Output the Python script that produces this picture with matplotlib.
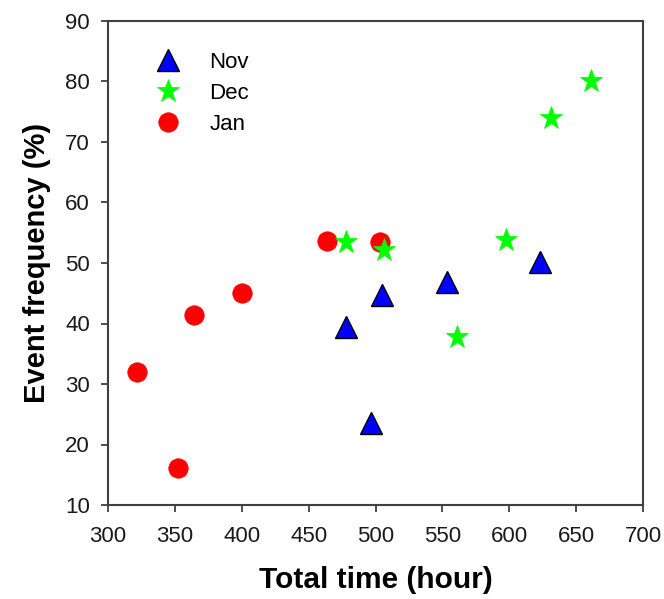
import matplotlib
matplotlib.use("Agg")
import matplotlib.pyplot as plt

# Data
nov_x = [478.2, 505.2, 496.4, 553.2, 623.0]
nov_y = [39.5, 44.7, 23.5, 46.9, 50.2]

dec_x = [661.1, 631.0, 597.3, 560.7, 477.6, 506.5]
dec_y = [80.0, 74.0, 53.8, 37.8, 53.4, 52.1]

jan_x = [463.5, 503.4, 400.0, 364.5, 321.5, 352.6]
jan_y = [53.7, 53.5, 45.0, 41.4, 32.0, 16.1]

x_ticks = [300, 350, 400, 450, 500, 550, 600, 650, 700]
y_ticks = [10, 20, 30, 40, 50, 60, 70, 80, 90]

plt.rcParams['font.family'] = ['Liberation Sans', 'DejaVu Sans']

fig = plt.figure(figsize=(6.64, 5.99), dpi=100)
ax = fig.add_axes([108/664, 1-505/599, (643-108)/664, (505-21)/599])

ax.plot(nov_x, nov_y, linestyle='none', marker='^', markersize=16,
        markerfacecolor='#0000ff', markeredgecolor='black', markeredgewidth=1.0,
        label='Nov', zorder=3)
ax.plot(dec_x, dec_y, linestyle='none', marker='*', markersize=17,
        markerfacecolor='#00ff00', markeredgecolor='#00ff00', markeredgewidth=0.5,
        label='Dec', zorder=4)
ax.plot(jan_x, jan_y, linestyle='none', marker='o', markersize=14,
        markerfacecolor='#ff0000', markeredgecolor='#ff0000', markeredgewidth=0.5,
        label='Jan', zorder=3)

ax.set_xlim(300, 700)
ax.set_ylim(10, 90)
ax.set_xticks(x_ticks)
ax.set_yticks(y_ticks)
ax.tick_params(direction='out', length=5, width=1.3, color='#404040',
               labelsize=16, labelcolor='#1a1a1a')
ax.tick_params(axis='x', pad=10)
ax.tick_params(axis='y', pad=8)
for s in ax.spines.values():
    s.set_linewidth(1.5)
    s.set_color('#404040')

ax.set_xlabel('Total time (hour)', fontsize=21.5, fontweight='bold', labelpad=14)
ax.set_ylabel('Event frequency (%)', fontsize=21, fontweight='bold', labelpad=10)

leg = ax.legend(loc='upper left', bbox_to_anchor=(0.065, 0.955), frameon=False,
                fontsize=16, handletextpad=1.1, labelspacing=0.45,
                borderaxespad=0.0, handlelength=1.5)

fig.savefig('out.png', dpi=100)
